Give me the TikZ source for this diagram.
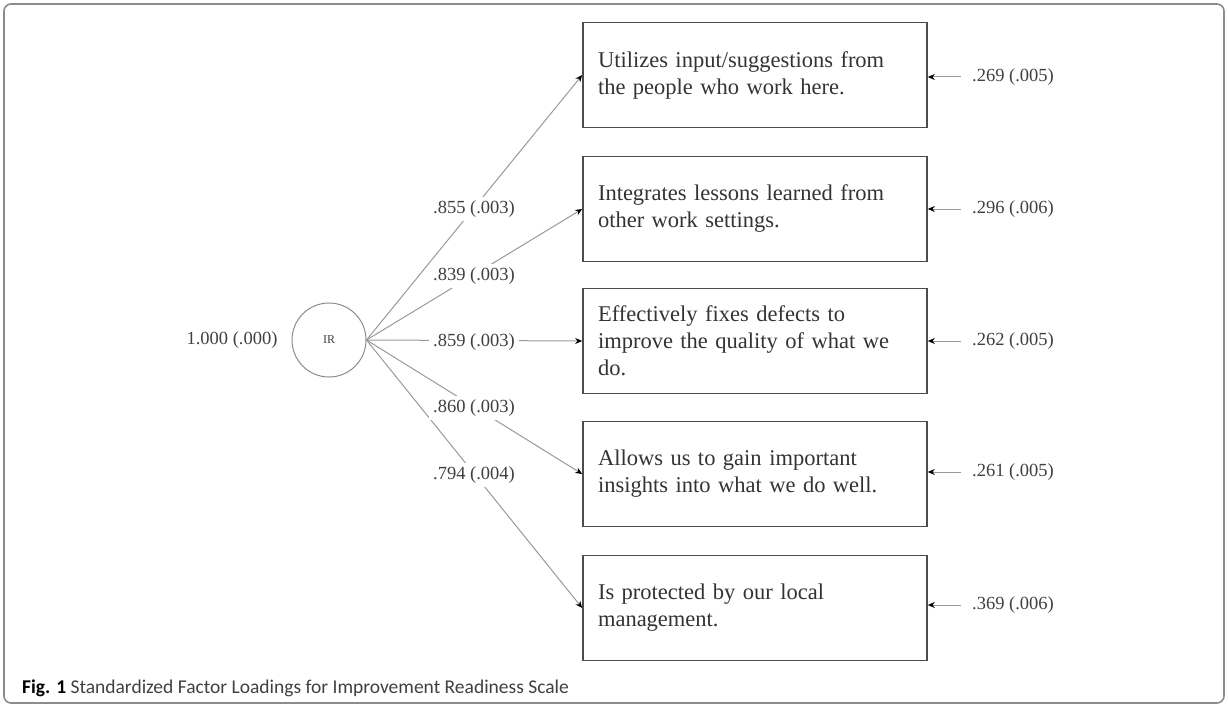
\documentclass[tikz,border=0pt]{standalone}
\usepackage{fontspec}
\setmainfont{Liberation Serif}
\newfontfamily\capfont{Carlito}
\usetikzlibrary{arrows.meta}

\begin{document}
\begin{tikzpicture}[x=1pt, y=-1pt,
  item/.style={shape=rectangle, draw=black!70, line width=1.6pt, minimum width=344pt, minimum height=105pt,
    text width=314pt, inner xsep=15pt, align=left, font=\fontsize{22.5}{27}\selectfont, text=black!80},
  factor/.style={shape=circle, minimum size=74pt, draw=black!45, line width=1pt, font=\fontsize{12}{14}\selectfont, text=black!75},
  est/.style={font=\fontsize{18.5}{22}\selectfont, text=black!75},
  load/.style={est, fill=white, inner sep=4pt},
  path/.style={draw=black!40, line width=1pt, -{Stealth[length=7pt,width=6pt,black]}}]

\useasboundingbox (0,0) rectangle (1228,706);
\draw [draw=black!45, line width=1.6pt, rounded corners=7pt] (4,4) rectangle (1224,703);

\node [factor] (ir) at (329,340) {IR};
\node [est] (var) at (232,340) {1.000 (.000)};

\node [item] (b1) at (755,75) {Utilizes input/suggestions from\\the people who work here.};
\node [item] (b2) at (755,209) {Integrates lessons learned from\\other work settings.};
\node [item] (b3) at (755,341) {Effectively fixes defects to\\improve the quality of what we\\do.};
\node [item] (b4) at (755,474) {Allows us to gain important\\insights into what we do well.};
\node [item] (b5) at (755,608) {Is protected by our local\\management.};

\draw [path] (ir.east) -- (b1.west);
\draw [path] (ir.east) -- (b2.west);
\draw [path] (ir.east) -- (b3.west);
\draw [path] (ir.east) -- (b4.west);
\draw [path] (ir.east) -- (b5.west);

\node [load] (l1) at (474,209) {.855 (.003)};
\node [load] (l2) at (474,276) {.839 (.003)};
\node [load] (l3) at (474,342) {.859 (.003)};
\node [load] (l4) at (474,408) {.860 (.003)};
\node [load] (l5) at (474,475) {.794 (.004)};

\node [est, inner xsep=11pt] (e1) at (1013,77) {.269 (.005)};
\node [est, inner xsep=11pt] (e2) at (1013,209) {.296 (.006)};
\node [est, inner xsep=11pt] (e3) at (1013,341) {.262 (.005)};
\node [est, inner xsep=11pt] (e4) at (1013,472) {.261 (.005)};
\node [est, inner xsep=11pt] (e5) at (1013,605) {.369 (.006)};

\draw [path] (e1.west) -- (e1.west -| b1.east);
\draw [path] (e2.west) -- (e2.west -| b2.east);
\draw [path] (e3.west) -- (e3.west -| b3.east);
\draw [path] (e4.west) -- (e4.west -| b4.east);
\draw [path] (e5.west) -- (e5.west -| b5.east);

\node [anchor=base west, inner sep=0pt, font=\capfont\fontsize{19.5}{22}\selectfont, text=black!75] (cap) at (22,693)
  {\textcolor{black}{\textbf{Fig. 1}} Standardized Factor Loadings for Improvement Readiness Scale};
\end{tikzpicture}
\end{document}
